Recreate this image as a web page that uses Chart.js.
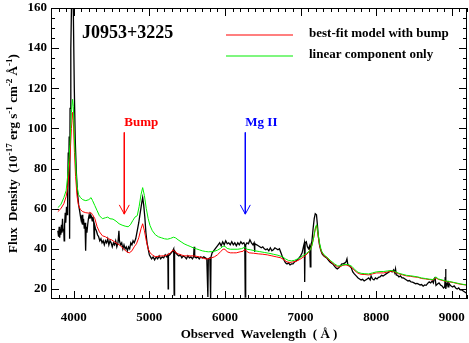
<!DOCTYPE html>
<html>
<head>
<meta charset="utf-8">
<script src="https://cdn.jsdelivr.net/npm/chart.js@4.4.1/dist/chart.umd.min.js"></script>
<style>
  html, body { margin: 0; padding: 0; background: #fff; }
  #chart { display: block; }
</style>
</head>
<body>
<canvas id="chart" width="469" height="343"></canvas>
<script>
/* =======================================================
   DATA
   ======================================================= */
// observed spectrum (black)
const specWave = [3790,3800,3808,3815,3822,3830,3838,3845,3852,3860,3868,3874,3880,3888,3895,3905,3912,3920,3928,3934,3940,3946,3952,3962,3975,3988,3998,4008,4020,4035,4050,4065,4078,4090,4100,4110,4120,4130,4140,4150,4158,4165,4175,4185,4195,4205,4215,4225,4235,4245,4255,4265,4270,4275,4288,4300,4315,4330,4345,4360,4375,4390,4405,4420,4435,4450,4465,4480,4495,4510,4525,4540,4555,4570,4585,4598,4605,4620,4635,4650,4665,4680,4695,4710,4725,4740,4755,4770,4785,4800,4820,4840,4860,4880,4900,4912,4925,4940,4955,4970,4985,5000,5015,5030,5050,5070,5090,5110,5130,5150,5170,5190,5210,5230,5245,5249,5253,5270,5290,5310,5322,5328,5334,5350,5370,5390,5410,5430,5450,5470,5490,5510,5530,5550,5570,5585,5592,5600,5620,5640,5660,5680,5700,5720,5740,5760,5774,5780,5800,5810,5816,5830,5850,5870,5890,5910,5930,5950,5970,5990,6010,6030,6050,6070,6090,6110,6130,6150,6170,6190,6210,6230,6250,6262,6268,6274,6290,6310,6330,6350,6370,6385,6391,6397,6420,6440,6460,6480,6500,6520,6540,6560,6580,6600,6620,6640,6660,6680,6700,6720,6740,6760,6780,6800,6820,6840,6860,6880,6900,6920,6940,6960,6980,7000,7020,7040,7050,7054,7060,7075,7090,7105,7120,7128,7136,7150,7165,7180,7194,7210,7222,7235,7250,7265,7285,7305,7325,7345,7365,7385,7405,7425,7445,7465,7485,7505,7525,7545,7565,7585,7600,7613,7625,7645,7670,7690,7710,7735,7760,7780,7800,7820,7840,7860,7880,7900,7920,7932,7950,7970,7990,8010,8030,8050,8070,8090,8110,8130,8150,8170,8190,8210,8230,8245,8255,8265,8285,8300,8320,8340,8360,8380,8400,8420,8440,8460,8480,8500,8520,8540,8560,8580,8600,8620,8640,8660,8680,8700,8720,8740,8755,8765,8776,8790,8810,8830,8850,8870,8890,8905,8912,8917,8922,8930,8940,8950,8960,8975,8990,9010,9030,9050,9070,9090,9110,9130,9150,9170,9190];
const specFlux = [49,46,51,45.5,50,47,52,48,55,49,50,44,52,58,53,61,57,70,88,76,96,45,110,140,170,180,150,120,95,78,68,62,59,56,54,57,52,55,50,53,39,51,48,52,55,57,55,57,56,54,56,53,45,52,50,49,47,46,44,45,43,44,42,44,43,45,42,44,43,41,43,42,44,41,43,49,44,42,43,40,42,40,41,39,41,40,43,42,44,43,45,49,53,58,63,65.5,62,56,48,43,40,37,36,35,36,34.5,36,35,36.5,35,36,35.5,37,36,37,20,36.5,37,38,39,40,17,39,38,37,36.5,37,35.5,36.5,36,35,36.5,35.5,36,35,36,41,36,35.5,36,35,36,35.5,36,35.5,35,16,35,35.5,15,36,38,39,40,41,42,43,41.5,43.5,42,44,42.5,43,42,43.5,42,43,41.5,43,42,43.5,42.5,43,42,16,42,43,42.5,44.5,43,42,43,38.5,42.5,42,41.5,41,40.5,41,40,39.5,40,39,40.5,39,39.5,40.5,40,39.5,40,38,36,34.5,33,32.5,33,32,32.5,32.5,33.5,34,34.5,35.5,36.5,38,41.5,43,23.5,43,43.5,41,40,41.5,31,41,44,50,55,57.5,57,52,46,42,39.5,37.5,36.5,36,35.5,34.5,33.5,33,32.5,31.5,30.5,30,30.5,31.5,32.5,32.5,33,33.5,35,32,31.5,30.5,28.5,27.5,26.5,25.5,25,24.5,24.8,24,24.5,25,25.5,24.5,26.5,25,24.5,25.5,25,25.8,26,26.8,26.5,27,27.5,28,28.5,29,28.5,29.5,28,30,27,26.7,26,26.5,25.5,25.5,25,24.5,24,24.2,23.5,23.4,23,22.6,22.8,22.4,22,22.2,21.4,22,21.8,22.8,23.5,23,24,23,25,26,21.8,22.5,23,22,21.5,20.5,21,26,30,20,22.5,23,21,23,22,21.5,21,21.5,20.5,20,20.5,19.5,19.5,19,18.5,18];

// best-fit model with bump (red)
const modelWave = [3790,3830,3870,3900,3925,3950,3970,3985,3995,4010,4025,4045,4065,4090,4120,4160,4200,4230,4250,4280,4310,4340,4380,4420,4460,4500,4540,4580,4620,4660,4700,4735,4770,4800,4830,4860,4890,4912,4935,4960,4985,5010,5040,5080,5120,5160,5200,5240,5280,5315,5340,5380,5420,5460,5500,5540,5580,5620,5660,5700,5740,5780,5820,5860,5900,5940,5975,6000,6030,6070,6110,6150,6200,6240,6262,6285,6320,6380,6440,6500,6560,6620,6680,6740,6780,6820,6860,6900,6940,6980,7020,7060,7100,7140,7170,7195,7212,7230,7250,7275,7310,7350,7400,7450,7490,7520,7560,7600,7640,7680,7720,7760,7800,7850,7900,7950,8000,8050,8100,8150,8200,8240,8300,8350,8400,8450,8500,8550,8600,8650,8700,8750,8790,8820,8870,8920,8970,9020,9070,9120,9190];
const modelFlux = [58.5,60,62.5,66,72,85,100,108,104,88,76,66,61.5,59.5,58.5,58,57.8,58,57,55,51,48.5,46.5,46,45,44.5,43.5,42.5,41.5,40,38.5,38,39,41,42.5,45.5,50,52.5,49,44,40,38,37,36,36.3,36.5,36.5,37,38,39.5,38.5,37.5,37,36.5,36.5,36.5,36.5,36.3,36,35.5,35,35,35.5,36,37,38.5,39.8,39.8,38.5,38,38,38,38.5,38.8,39.8,38.8,38,37.8,37.5,37.3,37,36.5,36,35.5,34.5,33.5,33.2,33.5,33.8,34.5,35.5,36.5,38,40.5,45,50,51.5,47,42,38.5,36.5,35.5,33.5,32,31,31,31.8,32,31.5,30.5,29,27.8,27.3,27.2,27,27.5,28,28,28,28.5,28.8,28.5,27.5,27,26.5,26.3,26,25.8,25.2,25,24.7,24.5,25.5,24.8,24.3,23.8,23.5,23.2,22.7,22.3,22];

// linear component only (green)
const linWave = [3790,3830,3870,3900,3925,3950,3970,3985,3995,4010,4025,4045,4065,4090,4120,4160,4200,4230,4250,4280,4310,4340,4380,4420,4450,4480,4520,4560,4600,4640,4680,4720,4750,4780,4810,4840,4865,4890,4912,4935,4960,4985,5010,5040,5080,5120,5160,5200,5240,5280,5320,5345,5380,5420,5460,5500,5540,5580,5620,5660,5700,5740,5780,5820,5860,5900,5940,5975,6000,6030,6070,6120,6170,6220,6262,6290,6340,6400,6460,6520,6580,6640,6700,6760,6800,6840,6880,6920,6960,7000,7040,7080,7120,7150,7175,7198,7212,7230,7250,7275,7310,7350,7400,7450,7490,7520,7560,7600,7640,7680,7720,7760,7800,7850,7900,7950,8000,8050,8100,8150,8200,8240,8300,8350,8400,8450,8500,8550,8600,8650,8700,8750,8790,8820,8870,8920,8970,9020,9070,9120,9190];
const linFlux = [60.5,62,65.5,69,78,92,108,114.5,111,95,82,71,67,65.5,64.5,64,64.5,65.5,64,61.5,59,56.5,55,55.5,55.8,55,54.8,53.8,52.5,51.8,51.3,51,52,54,55.8,56.5,61,67,70.5,66.5,60,55,51.5,49,47,46,45.5,45,44.8,45.2,45.8,45.5,44.5,43.5,42.5,41.8,41.2,40.5,40,39.5,39,38.7,38.5,38.6,38.8,39.3,40.2,41.3,41.2,40.2,39.8,39.8,39.8,40.1,40.8,39.8,39.5,39,38.6,38.2,37.8,37.3,36.8,36,35,34.2,34,34.3,35,35.8,36.8,37.8,39,41.5,46,51,52,48,43,39,37,35.8,34,32.5,31.5,31.5,32,32.3,32,31.2,29.5,28.3,27.8,27.6,27.5,28,28.5,28.7,28.7,29,29.2,28.8,27.8,27.3,26.8,26.6,26.3,26,25.5,25.2,24.9,24.7,26,25,24.5,24,23.7,23.3,22.9,22.5,22];

// axis ticks
const xTicks = [4000, 5000, 6000, 7000, 8000, 9000];
const yTicks = [20, 40, 60, 80, 100, 120, 140, 160];

// line markers: label, wavelength, shaft top, tip
const markLabels = ["Bump", "Mg II"];
const markWave = [4669, 6269];
const markTop = [98, 98];
const markTip = [57.3, 57.3];
const markColors = ["#ff0000", "#0000ff"];

const seriesLabels = ["best-fit model with bump", "linear component only"];
const seriesColors = ["#ff0000", "#00ee00"];

/* =======================================================
   HELPERS
   ======================================================= */
const pts = (xs, ys) => xs.map((x, i) => ({ x: x, y: ys[i] }));
const SERIF = "'Liberation Serif', 'Times New Roman', serif";

const datasets = [
    { data: pts(linWave, linFlux), borderColor: seriesColors[1], borderWidth: 1, order: 1 },
    { data: pts(modelWave, modelFlux), borderColor: seriesColors[0], borderWidth: 1, order: 2 },
    { data: pts(specWave, specFlux), borderColor: "#000000", borderWidth: 1.3, order: 3 }
];

// arrows built from the marker arrays
markWave.forEach((w, i) => {
    const head = 4.6;   // head height in flux units
    const half = 66;    // head half-width in Angstrom
    datasets.push({ data: [{ x: w, y: markTop[i] }, { x: w, y: markTip[i] }],
        borderColor: markColors[i], borderWidth: 1, order: 0 });
    datasets.push({ data: [{ x: w - half, y: markTip[i] + head }, { x: w, y: markTip[i] }, { x: w + half, y: markTip[i] + head }],
        borderColor: markColors[i], borderWidth: 1, order: 0 });
});

/* =======================================================
   DECORATION PLUGIN (frame, inward ticks, texts)
   ======================================================= */
function drawRich(ctx, parts, x, y, size) {
    // parts: [text, isSuperscript]
    let w = 0;
    parts.forEach(p => {
        ctx.font = "bold " + (p[1] ? size * 0.7 : size) + "px " + SERIF;
        w += ctx.measureText(p[0]).width;
    });
    let cx = x - w / 2;
    parts.forEach(p => {
        ctx.font = "bold " + (p[1] ? size * 0.7 : size) + "px " + SERIF;
        ctx.fillText(p[0], cx, p[1] ? y - size * 0.4 : y);
        cx += ctx.measureText(p[0]).width;
    });
}

const decor = {
    id: "decor",
    afterDatasetsDraw(chart) {
        const ctx = chart.ctx;
        const a = chart.chartArea;
        const xs = chart.scales.x, ys = chart.scales.y;
        ctx.save();
        ctx.strokeStyle = "#000";
        ctx.lineWidth = 1;
        ctx.strokeRect(a.left + 0.5, a.top + 0.5, a.right - a.left - 1, a.bottom - a.top - 1);

        ctx.beginPath();
        for (let v = 3800; v <= 9200; v += 100) {
            const px = Math.round(xs.getPixelForValue(v)) + 0.5;
            const len = v % 1000 === 0 ? 8 : 4;
            ctx.moveTo(px, a.bottom); ctx.lineTo(px, a.bottom - len);
            ctx.moveTo(px, a.top); ctx.lineTo(px, a.top + len);
        }
        for (let v = 20; v <= 160; v += 5) {
            const py = Math.round(ys.getPixelForValue(v)) + 0.5;
            const len = v % 20 === 0 ? 8 : 4;
            ctx.moveTo(a.left, py); ctx.lineTo(a.left + len, py);
            ctx.moveTo(a.right, py); ctx.lineTo(a.right - len, py);
        }
        ctx.stroke();

        ctx.fillStyle = "#000";
        ctx.textBaseline = "middle";
        ctx.textAlign = "left";

        // object name
        ctx.font = "bold 18px " + SERIF;
        ctx.fillText("J0953+3225", a.left + 31, a.top + 25);

        // legend (model + linear)
        seriesLabels.forEach((t, i) => {
            const y = a.top + 27 + i * 21;
            ctx.strokeStyle = seriesColors[i];
            ctx.lineWidth = 1.2;
            ctx.beginPath();
            ctx.moveTo(a.left + 175, y); ctx.lineTo(a.left + 242, y);
            ctx.stroke();
            ctx.fillStyle = "#000";
            ctx.font = "bold 13px " + SERIF;
            ctx.fillText(t, a.left + 258, y - 1);
        });

        // marker labels
        markLabels.forEach((t, i) => {
            ctx.fillStyle = markColors[i];
            ctx.font = "bold 13px " + SERIF;
            ctx.fillText(t, xs.getPixelForValue(markWave[i]), ys.getPixelForValue(103));
        });

        // axis titles
        ctx.fillStyle = "#000";
        ctx.textAlign = "left";
        ctx.textBaseline = "alphabetic";
        drawRich(ctx, [["Observed  Wavelength  ( \u00c5 )", false]], (a.left + a.right) / 2, 338, 13);

        ctx.save();
        ctx.translate(17, (a.top + a.bottom) / 2);
        ctx.rotate(-Math.PI / 2);
        drawRich(ctx, [["Flux  Density  (10", false], ["-17", true], [" erg s", false], ["-1", true],
            [" cm", false], ["-2", true], [" \u00c5", false], ["-1", true], [")", false]], 0, 0, 13);
        ctx.restore();
        ctx.restore();
    }
};

/* =======================================================
   CHART
   ======================================================= */
const tickFont = { family: SERIF, size: 13, weight: "bold" };

new Chart(document.getElementById("chart"), {
    type: "line",
    data: { datasets: datasets },
    options: {
        responsive: false,
        animation: false,
        devicePixelRatio: 1,
        layout: { padding: { top: 8, right: 2, left: 0, bottom: 0 } },
        elements: { point: { radius: 0 }, line: { tension: 0 } },
        plugins: { legend: { display: false }, tooltip: { enabled: false } },
        scales: {
            x: {
                type: "linear", min: 3700, max: 9200,
                afterBuildTicks: s => { s.ticks = xTicks.map(v => ({ value: v })); },
                afterFit: s => { s.height = 44; s.paddingLeft = 0; s.paddingRight = 0; },
                grid: { display: false, drawTicks: false },
                border: { display: false },
                ticks: { color: "#000", font: tickFont, padding: 11, maxRotation: 0,
                    callback: v => String(v) }
            },
            y: {
                min: 15, max: 160,
                afterBuildTicks: s => { s.ticks = yTicks.map(v => ({ value: v })); },
                afterFit: s => { s.width = 51; s.paddingTop = 0; s.paddingBottom = 0; },
                grid: { display: false, drawTicks: false },
                border: { display: false },
                ticks: { color: "#000", font: tickFont, padding: 4,
                    callback: v => String(v) }
            }
        }
    },
    plugins: [decor]
});
</script>
</body>
</html>
